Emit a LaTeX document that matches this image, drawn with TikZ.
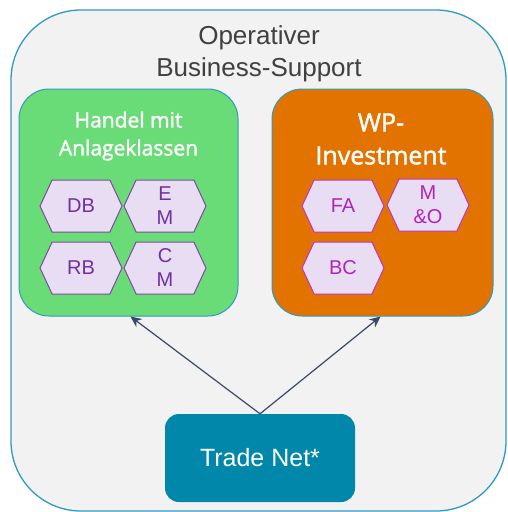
\documentclass[tikz,border=0pt]{standalone}
\usepackage{fontspec}
\setmainfont{Liberation Sans}
\newfontfamily\titlefont[FakeBold=1.6]{Open Sans}
\usetikzlibrary{shapes.symbols,arrows.meta}
\definecolor{bgcol}{HTML}{F2F2F2}
\definecolor{edgeblue}{HTML}{2E9AC4}
\definecolor{greenbox}{HTML}{69DC77}
\definecolor{orangebox}{HTML}{E37300}
\definecolor{tealbox}{HTML}{0087A9}
\definecolor{hexfill}{HTML}{E8DDF2}
\definecolor{purpleline}{HTML}{7E4A9E}
\definecolor{purpletext}{HTML}{7030A0}
\definecolor{magline}{HTML}{C032C0}
\definecolor{magtext}{HTML}{B024B8}
\definecolor{arrowcol}{HTML}{3A4868}
\definecolor{greytext}{HTML}{404040}
\tikzset{
  group/.style={draw=edgeblue, line width=1pt, rounded corners=30pt, minimum width=219pt, minimum height=227pt, inner sep=0pt},
  hexbox/.style={signal, signal to=west and east, signal pointer angle=130, minimum width=82pt, minimum height=52pt, inner sep=0pt, fill=hexfill, line width=1pt, font=\fontsize{20}{24}\selectfont, align=center},
  hexgreen/.style={hexbox, draw=purpleline, text=purpletext},
  hexorange/.style={hexbox, draw=magline, text=magtext},
  conn/.style={draw=arrowcol, line width=1.2pt, -{Stealth[length=11pt,width=10pt]}},
}
\begin{document}
\begin{tikzpicture}[x=1pt,y=-1pt]
\useasboundingbox (0,0) rectangle (507,512);
\node[draw=edgeblue, fill=bgcol, line width=1.3pt, rounded corners=70pt, minimum width=495pt, minimum height=501pt, inner sep=0pt] (outer) at (258.5,260.5) {};
\node[text=greytext, font=\fontsize{26}{32}\selectfont, align=center] (title) at (259,54) {Operativer\\Business-Support};
\node[group, fill=greenbox] (green) at (128.5,202.5) {};
\node[group, fill=orangebox, minimum width=221pt] (orange) at (382.5,202.5) {};
\node[text=white, font=\titlefont\fontsize{21}{28}\selectfont, align=center] (gtitle) at (128.5,136) {Handel mit\\Anlageklassen};
\node[text=white, font=\titlefont\fontsize{25}{33}\selectfont, align=center] (otitle) at (381,139) {WP-\\Investment};
\node[hexgreen] (db) at (81,206) {DB};
\node[hexgreen] (em) at (165,206) {E\\M};
\node[hexgreen] (rb) at (81,268) {RB};
\node[hexgreen] (cm) at (165,268) {C\\M};
\node[hexorange] (fa) at (343,206) {FA};
\node[hexorange] (mo) at (428,205) {M\\\&O};
\node[hexorange] (bc) at (343,268) {BC};
\node[fill=tealbox, rounded corners=14pt, minimum width=190pt, minimum height=88pt, inner sep=0pt, text=white, font=\fontsize{25}{30}\selectfont] (tn) at (260,458) {Trade Net*};
\draw[conn] (tn.north) -- ([xshift=2pt]green.south);
\draw[conn] (tn.north) -- ([xshift=-2pt]orange.south);
\end{tikzpicture}
\end{document}
